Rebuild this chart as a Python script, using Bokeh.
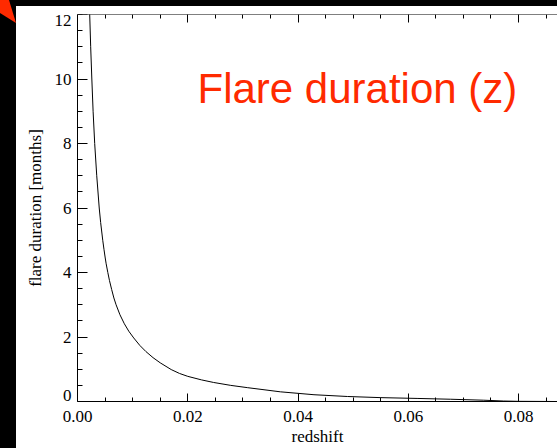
from bokeh.plotting import figure
from bokeh.models import (Range1d, SingleIntervalTicker, FixedTicker,
                          PrintfTickFormatter, LinearAxis, Label)
from bokeh.embed import file_html
from bokeh.resources import INLINE

# ---- data ----
redshift = [0.00218, 0.00239, 0.00260, 0.00283, 0.00312, 0.00349, 0.00394,
            0.00420, 0.00458, 0.00480, 0.00503, 0.00520, 0.00550, 0.00580,
            0.00620, 0.00660, 0.00700, 0.00770, 0.00850,
            0.00930, 0.01020, 0.01130, 0.01240, 0.01370, 0.01500, 0.01700,
            0.01850, 0.02000, 0.02250, 0.02470, 0.02780, 0.03080, 0.03680,
            0.04290, 0.04900, 0.05500, 0.06160, 0.06770, 0.07370, 0.07730,
            0.08000, 0.08707]
duration = [12.2, 11.0, 10.0, 9.0, 8.0, 7.0, 6.0,
            5.55, 5.0, 4.72, 4.45, 4.27, 4.0, 3.75,
            3.47, 3.21, 3.00, 2.69, 2.41,
            2.18, 1.97, 1.74, 1.55, 1.36, 1.20, 0.99,
            0.87, 0.78, 0.67, 0.59, 0.50, 0.43, 0.30,
            0.21, 0.155, 0.12, 0.095, 0.07, 0.04, 0.015,
            0.005, 0.0]
x_ticks = [0.00, 0.02, 0.04, 0.06, 0.08]
y_ticks = [0, 2, 4, 6, 8, 10, 12]
y_tick_labels = ["0", "2", "4", "6", "8", "10", "12"]
x_label = "redshift"
y_label = "flare duration [months]"
title_text = "Flare duration (z)"

SERIF = "Liberation Serif"
RED = "#ff2a00"
X_MAX = 0.08707
Y_MAX = 12

p = figure(width=557, height=448, output_backend="svg", toolbar_location=None,
           x_range=Range1d(0, X_MAX), y_range=Range1d(0, Y_MAX),
           min_border_left=77, min_border_right=0, min_border_top=14,
           min_border_bottom=44)
p.border_fill_color = None
p.background_fill_color = "white"
p.outline_line_color = None
p.grid.visible = False

def style(ax, major_in, minor_in):
    ax.axis_line_color = "black"
    ax.axis_line_width = 1
    ax.major_tick_line_color = "black"
    ax.minor_tick_line_color = "black"
    ax.major_tick_in = major_in
    ax.major_tick_out = 0
    ax.minor_tick_in = minor_in
    ax.minor_tick_out = 0
    ax.major_label_text_font = SERIF
    ax.major_label_text_font_size = "17px"
    ax.major_label_text_color = "black"
    ax.axis_label_text_font = SERIF
    ax.axis_label_text_font_size = "17px"
    ax.axis_label_text_font_style = "normal"
    ax.axis_label_text_color = "black"

# bottom axis
xa = p.xaxis[0]
xa.ticker = FixedTicker(ticks=x_ticks,
                        minor_ticks=[v / 200 for v in range(0, 18) if v % 4 != 0])
xa.formatter = PrintfTickFormatter(format="%.2f")
style(xa, 8, 4)
xa.major_label_standoff = 9
xa.axis_label = x_label
xa.axis_label_standoff = 2

# left axis: labels only (end labels nudged inward as in the reference)
shift = 0.185
label_pos = [y_ticks[0] + shift] + y_ticks[1:-1] + [y_ticks[-1] - shift]
ya = p.yaxis[0]
ya.ticker = FixedTicker(ticks=label_pos, minor_ticks=[])
ya.formatter = PrintfTickFormatter(format="%d")
ya.major_label_overrides = {label_pos[0]: y_tick_labels[0],
                            label_pos[-1]: y_tick_labels[-1]}
style(ya, 0, 0)
ya.major_tick_line_color = None
ya.major_label_standoff = 6
ya.axis_label = y_label
ya.axis_label_standoff = 7

# left tick marks (inside the frame)
yticks_ax = LinearAxis(fixed_location=0,
                       ticker=SingleIntervalTicker(interval=2, num_minor_ticks=4))
style(yticks_ax, 10, 5)
yticks_ax.major_label_text_color = None
p.add_layout(yticks_ax, "left")

# top axis (ticks only)
top = LinearAxis(fixed_location=Y_MAX,
                 ticker=SingleIntervalTicker(interval=0.02, num_minor_ticks=4))
style(top, 8, 4)
top.major_label_text_color = None
p.add_layout(top, "above")

p.line(redshift, duration, line_color="black", line_width=1)

# big red title
p.add_layout(Label(x=0.02177, y=9.69, text=title_text, text_align="left",
                   text_baseline="alphabetic", text_font="Liberation Sans",
                   text_font_size="42px", text_color=RED))

html = file_html(p, INLINE)
css = ("<style>html{background:linear-gradient(#000,#000) 0 0/100% 6px no-repeat,"
       "linear-gradient(#000,#000) 0 0/16px 100% no-repeat,#fff;}"
       "body::before{content:'';position:absolute;left:0;top:0;width:16px;height:24px;"
       "background:#ff2a00;clip-path:polygon(0 0,9px 0,16px 23px,0 13px);z-index:5;}"
       "</style>")
html = html.replace("</head>", css + "</head>", 1)
open("out.html", "w").write(html)
